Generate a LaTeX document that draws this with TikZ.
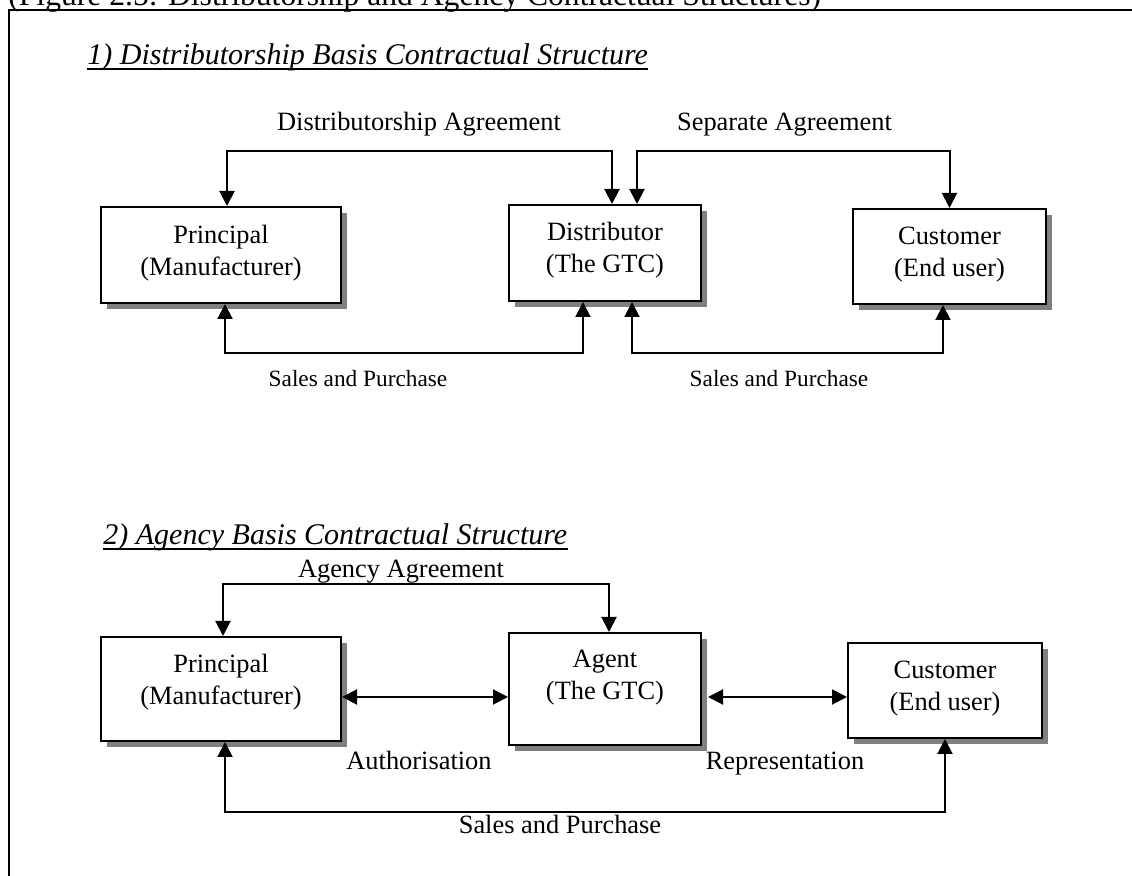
\documentclass[tikz,border=0pt]{standalone}
\usepackage{fontspec}
\setmainfont{Liberation Serif}
\usetikzlibrary{arrows.meta,shadows}
\begin{document}
\begin{tikzpicture}[x=0.5pt,y=-0.5pt,
  every node/.style={inner sep=0pt, font=\fontsize{13.2}{16.2}\selectfont},
  box/.style 2 args={draw, line width=1pt, fill=white,
    minimum width=#1*0.5pt, minimum height=#2*0.5pt,
    drop shadow={shadow xshift=3pt, shadow yshift=-3pt, fill=black!50, opacity=1}},
  boxtext/.style={align=center, anchor=base},
  lbl/.style={anchor=base},
  sales/.style={anchor=base, font=\fontsize{11.65}{16}\selectfont},
  heading/.style={anchor=base west, font=\fontsize{15}{18}\selectfont\itshape},
  uline/.style={line width=1pt},
  conn/.style={line width=1pt,
    {Triangle[length=7.5pt,width=7.5pt]}-{Triangle[length=7.5pt,width=7.5pt]}}
]
\useasboundingbox (0,0) rectangle (1132,876);

% caption and frame
\node[anchor=base west, font=\fontsize{15.8}{19}\selectfont] (title) at (8,6)
  {(Figure 2.5: Distributorship and Agency Contractual Structures)};
\draw[line width=1pt] (9,900) -- (9,10) -- (1150,10);

% ---------- 1) distributorship ----------
\node[heading] (h1) at (87,65) {1) Distributorship Basis Contractual Structure};
\draw[uline] ([yshift=-2.25pt]h1.base west) -- ([yshift=-2.25pt]h1.base east);

\node[box={240}{96}] (p1) at (221,255) {};
\node[box={192}{96}] (d1) at (605,253) {};
\node[box={193}{95}] (c1) at (949.5,256.5) {};
% base anchor sits on the second line
\node[boxtext] (p1t) at (221,276) {Principal\\(Manufacturer)};
\node[boxtext] (d1t) at (605,273) {Distributor\\(The GTC)};
\node[boxtext] (c1t) at (949.5,277) {Customer\\(End user)};

\draw[conn] ([xshift=3pt]p1.north) -- ++(0,27.5pt) -| ([xshift=3.5pt]d1.north);
\draw[conn] ([xshift=16pt]d1.north) -- ++(0,26.5pt) -| (c1.north);
\draw[conn] ([xshift=2pt]p1.south) -- ++(0,-24.5pt) -| ([xshift=-11pt]d1.south);
\draw[conn] ([xshift=13.5pt]d1.south) -- ++(0,-25.5pt) -| ([xshift=-3.25pt]c1.south);

\node[lbl] (l1) at (419,131) {Distributorship Agreement};
\node[lbl] (l2) at (784.5,131) {Separate Agreement};
\node[sales] (l3) at (358,387) {Sales and Purchase};
\node[sales] (l4) at (779,387) {Sales and Purchase};

% ---------- 2) agency ----------
\node[heading] (h2) at (103,545) {2) Agency Basis Contractual Structure};
\draw[uline] ([yshift=-2.25pt]h2.base west) -- ([yshift=-2.25pt]h2.base east);

\node[box={240}{104}] (p2) at (221,689) {};
\node[box={192}{112}] (a2) at (605,689) {};
\node[box={194}{95}] (c2) at (945,690.5) {};
\node[boxtext] (p2t) at (221,705) {Principal\\(Manufacturer)};
\node[boxtext] (a2t) at (605,700) {Agent\\(The GTC)};
\node[boxtext] (c2t) at (945,711) {Customer\\(End user)};

\draw[conn] ([xshift=1pt]p2.north) -- ++(0,26pt) -| ([xshift=2pt]a2.north);
\draw[conn] ([yshift=-4pt]p2.east) -- ([yshift=-4pt]p2.east -| a2.west);
\draw[conn] ([xshift=3pt,yshift=-4pt]a2.east) -- ([yshift=-4pt]a2.east -| c2.west);
\draw[conn] ([xshift=2pt]p2.south) -- ++(0,-35pt) -| (c2.south);

\node[lbl] (l5) at (401,578) {Agency Agreement};
\node[lbl] (l6) at (419,770) {Authorisation};
\node[lbl] (l7) at (785,770) {Representation};
\node[lbl] (l8) at (560,834) {Sales and Purchase};
\end{tikzpicture}
\end{document}
